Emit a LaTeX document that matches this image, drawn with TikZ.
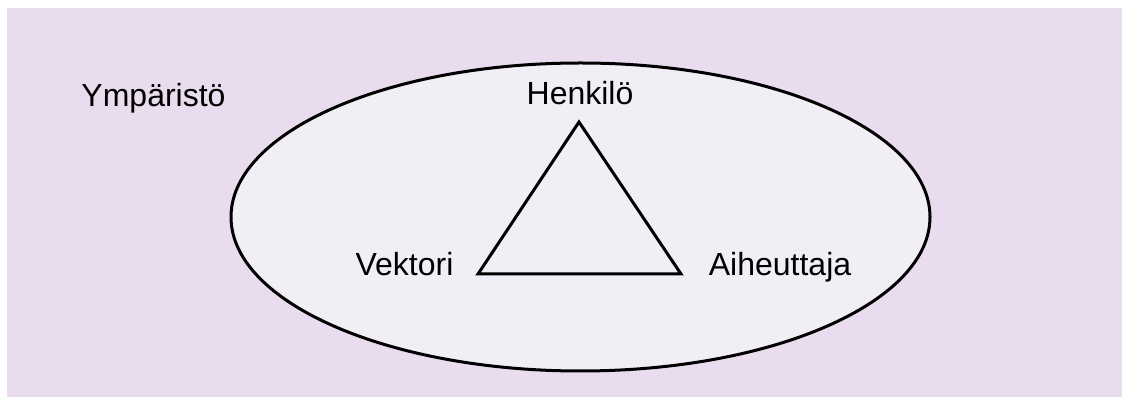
\documentclass[tikz,border=0pt]{standalone}
\usepackage{fontspec}
\setmainfont{Liberation Sans}
\usetikzlibrary{positioning}
\definecolor{lavender}{RGB}{232,220,238}
\definecolor{palelavender}{RGB}{242,238,245}

\begin{document}
\begin{tikzpicture}[x=0.5pt, y=-0.5pt, font=\fontsize{16}{19}\selectfont, line width=1.5pt,
  label/.style={anchor=base, inner sep=0pt}]
  \useasboundingbox (0,0) rectangle (1129,405);

  % Tausta
  \fill[lavender] (7,8) rectangle (1122,397);

  % Ympäristö (ellipsi)
  \draw[fill=palelavender] (580.5,217) ellipse [x radius=349.5, y radius=154];
  \node[label] (ymparisto) at (153.5,107) {Ympäristö};

  % Kolmio
  \coordinate (top) at (579,122);
  \coordinate (left) at (478,274);
  \coordinate (right) at (681,274);
  \draw[line join=miter] (top) -- (right) -- (left) -- cycle;

  % Kulmat
  \node[label] (henkilo) at (580,105) {Henkilö};
  \node[label] (vektori) at (404.5,276) {Vektori};
  \node[label] (aiheuttaja) at (780,276) {Aiheuttaja};
\end{tikzpicture}
\end{document}
